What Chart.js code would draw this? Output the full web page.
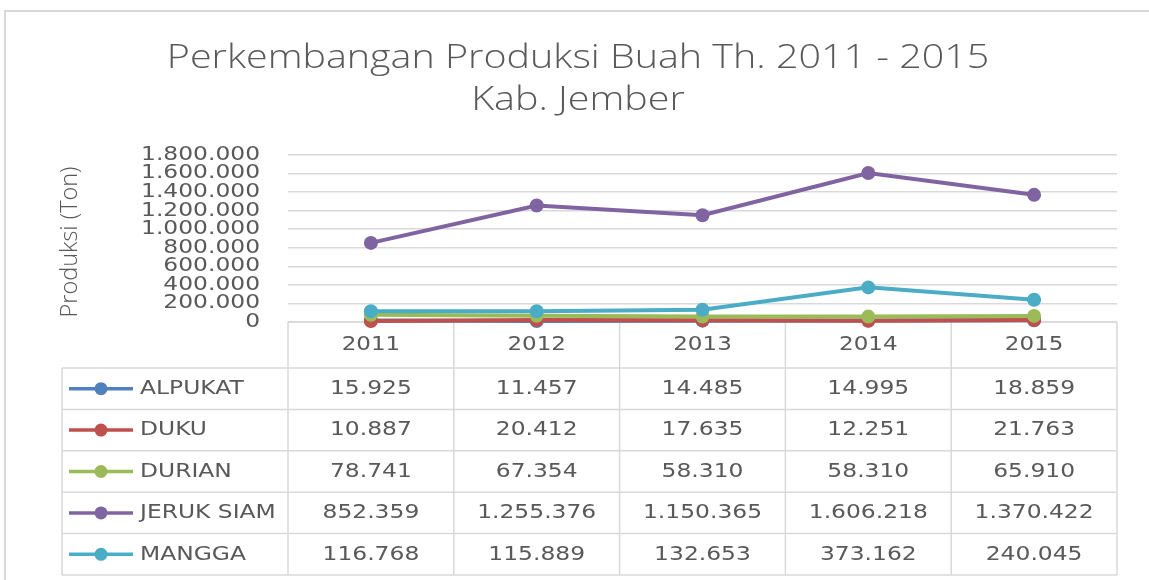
<!DOCTYPE html>
<html>
<head>
<meta charset="utf-8">
<script src="https://cdn.jsdelivr.net/npm/chart.js@4"></script>
<style>
    body { margin: 0; background: #fff; overflow: hidden; }
    #frame { position: absolute; left: 4px; top: 10px; width: 1300px; height: 800px; border: 2px solid #d9d9d9; }
    #wrap { position: absolute; left: 0; top: 0; width: 1149px; height: 580px; }
</style>
</head>
<body>
<div id="frame"></div>
<div id="wrap"><canvas id="fruitChart" width="1149" height="580"></canvas></div>
<script>
const titleLines = ['Perkembangan Produksi Buah Th. 2011 - 2015', 'Kab. Jember'];
const yTitle = 'Produksi (Ton)';
const years = ['2011', '2012', '2013', '2014', '2015'];
const seriesNames = ['ALPUKAT', 'DUKU', 'DURIAN', 'JERUK SIAM', 'MANGGA'];
const seriesColors = ['#4f81bd', '#c0504d', '#9bbb59', '#8064a2', '#4bacc6'];

const alpukat = [15925, 11457, 14485, 14995, 18859];
const duku = [10887, 20412, 17635, 12251, 21763];
const durian = [78741, 67354, 58310, 58310, 65910];
const jerukSiam = [852359, 1255376, 1150365, 1606218, 1370422];
const mangga = [116768, 115889, 132653, 373162, 240045];

const seriesValues = [alpukat, duku, durian, jerukSiam, mangga];

const TEXT = '#595959';
const LINE = '#d9d9d9';
const TABLE_LEFT = 62;
const HEADER_H = 46;
const ROW_H = 41.4;

function fmt(v) {
    return String(v).replace(/\B(?=(\d{3})+(?!\d))/g, '.');
}

// excel picture is stretched sideways, so text gets a horizontal scale
function wideText(ctx, text, x, y, align, sx, baseline) {
    ctx.save();
    ctx.translate(x, y);
    ctx.scale(sx, 1);
    ctx.textAlign = align;
    ctx.textBaseline = baseline || 'middle';
    ctx.fillText(text, 0, 0);
    ctx.restore();
}

const dataTable = {
    id: 'dataTable',
    beforeDatasetsDraw(chart) {
        const ctx = chart.ctx;
        const x = chart.scales.x;
        const y = chart.scales.y;
        const area = chart.chartArea;
        const half = (x.getPixelForValue(1) - x.getPixelForValue(0)) / 2;
        const top = area.bottom;
        const bottom = top + HEADER_H + ROW_H * seriesNames.length;

        ctx.save();

        // title
        ctx.fillStyle = TEXT;
        ctx.font = '300 33px "Open Sans"';
        wideText(ctx, titleLines[0], 578, 68, 'center', 1.195, 'alphabetic');
        wideText(ctx, titleLines[1], 578, 110, 'center', 1.195, 'alphabetic');

        ctx.strokeStyle = LINE;
        ctx.lineWidth = 1.5;
        ctx.beginPath();
        ctx.moveTo(area.left, top);
        ctx.lineTo(area.right, top);
        for (let r = 0; r <= seriesNames.length; r++) {
            const ry = top + HEADER_H + ROW_H * r;
            ctx.moveTo(TABLE_LEFT, ry);
            ctx.lineTo(area.right, ry);
        }
        ctx.moveTo(TABLE_LEFT, top + HEADER_H);
        ctx.lineTo(TABLE_LEFT, bottom);
        years.forEach((yr, i) => {
            const cx = x.getPixelForValue(i);
            ctx.moveTo(cx - half, top);
            ctx.lineTo(cx - half, bottom);
        });
        ctx.moveTo(area.right, top);
        ctx.lineTo(area.right, bottom);
        ctx.stroke();

        ctx.fillStyle = TEXT;
        ctx.font = '20px "DejaVu Sans"';
        years.forEach((yr, i) => {
            wideText(ctx, yr, x.getPixelForValue(i), top + HEADER_H / 2, 'center', 1.15);
        });

        seriesNames.forEach((name, r) => {
            const cy = top + HEADER_H + ROW_H * (r + 0.5);
            ctx.strokeStyle = seriesColors[r];
            ctx.lineWidth = 3.5;
            ctx.beginPath();
            ctx.moveTo(69, cy);
            ctx.lineTo(133, cy);
            ctx.stroke();
            ctx.fillStyle = seriesColors[r];
            ctx.beginPath();
            ctx.arc(101, cy, 6.5, 0, Math.PI * 2);
            ctx.fill();

            ctx.fillStyle = TEXT;
            ctx.font = '20px "DejaVu Sans"';
            wideText(ctx, name, 140, cy, 'left', 1.17);
            seriesValues[r].forEach((v, i) => {
                wideText(ctx, fmt(v), x.getPixelForValue(i), cy, 'center', 1.17);
            });
        });

        // y tick labels
        ctx.font = '19px "DejaVu Sans"';
        y.ticks.forEach((t, i) => {
            wideText(ctx, fmt(t.value), area.left - 28, y.getPixelForTick(i), 'right', 1.23);
        });

        // y axis title
        ctx.save();
        ctx.translate(70, 242);
        ctx.rotate(-Math.PI / 2);
        ctx.font = '300 23.5px "Open Sans"';
        ctx.textAlign = 'center';
        ctx.textBaseline = 'middle';
        ctx.fillText(yTitle, 0, 0);
        ctx.restore();

        ctx.restore();
    }
};

new Chart(document.getElementById('fruitChart'), {
    type: 'line',
    data: {
        labels: years,
        datasets: seriesNames.map((name, i) => ({
            label: name,
            data: seriesValues[i],
            borderColor: seriesColors[i],
            backgroundColor: seriesColors[i],
            borderWidth: 4,
            pointRadius: 7,
            pointBorderWidth: 0,
            fill: false,
            tension: 0,
            clip: false,
            order: seriesNames.length - i
        }))
    },
    options: {
        responsive: false,
        animation: false,
        devicePixelRatio: 1,
        layout: { padding: { left: 0, right: 32, bottom: 258, top: 155 } },
        plugins: {
            legend: { display: false },
            tooltip: { enabled: false },
            title: { display: false }
        },
        scales: {
            x: {
                display: false,
                offset: true
            },
            y: {
                min: 0,
                max: 1800000,
                ticks: { stepSize: 200000, display: false },
                grid: { color: LINE, lineWidth: 1.5, drawTicks: false },
                border: { display: false },
                afterFit(scale) { scale.width = 288; }
            }
        }
    },
    plugins: [dataTable]
});
</script>
</body>
</html>
